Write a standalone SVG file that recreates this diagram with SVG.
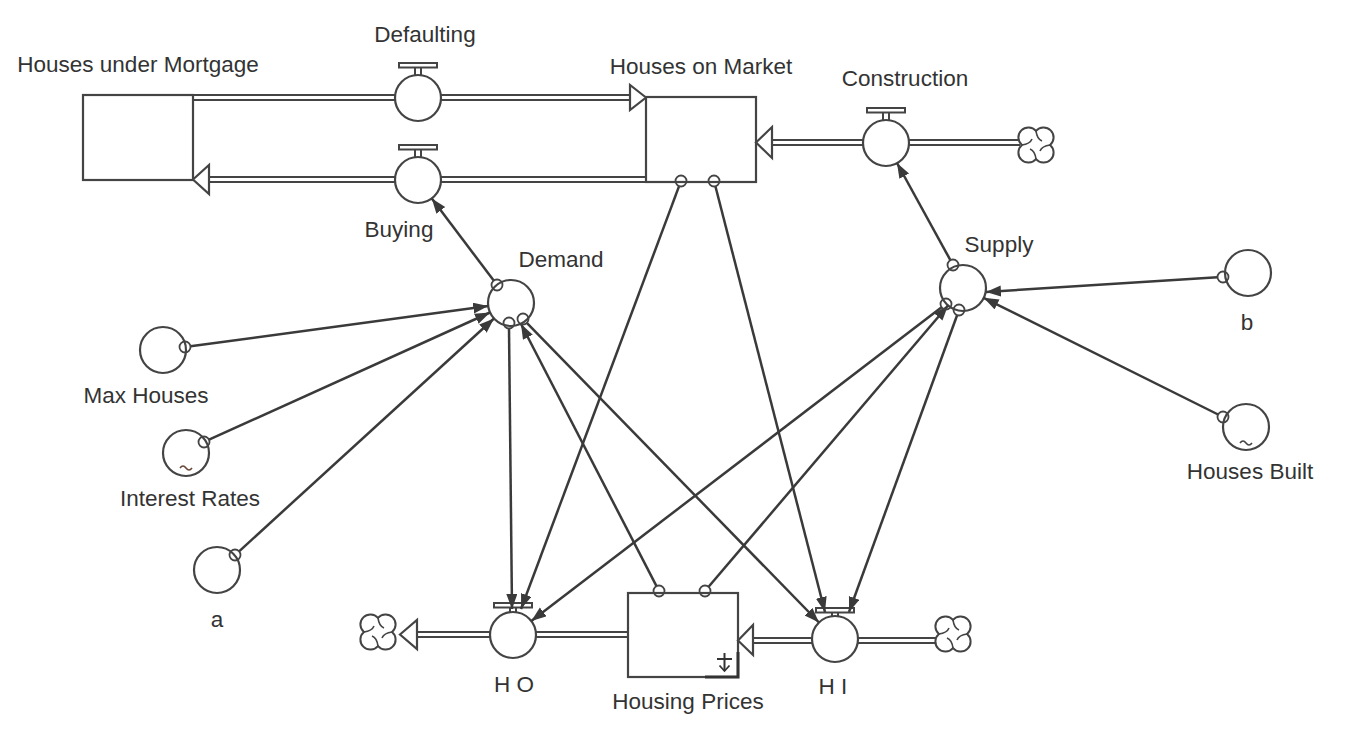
<svg xmlns="http://www.w3.org/2000/svg" width="1368" height="730" viewBox="0 0 1368 730">
<style>
text{font-family:"Liberation Sans",Arial,sans-serif;font-size:22.5px;fill:#333;text-anchor:middle}
.stock{fill:#fff;stroke:#444;stroke-width:2.2}
.conv{fill:#fff;stroke:#444;stroke-width:2.2}
.pipeO{stroke:#444;stroke-width:7;fill:none}
.pipeI{stroke:#fff;stroke-width:3;fill:none}
.head{fill:#fff;stroke:#444;stroke-width:2.2;stroke-linejoin:miter}
.cl{fill:#fff;stroke:#444;stroke-width:2}
.conn{stroke:#3a3a3a;stroke-width:2.5;fill:none;marker-end:url(#ah)}
.dot{fill:none;stroke:#444;stroke-width:1.8}
.hand{fill:#fff;stroke:#444;stroke-width:2}
.tl{fill:none;stroke:#444;stroke-width:1.6}
</style>
<defs>
<marker id="ah" markerUnits="userSpaceOnUse" markerWidth="16" markerHeight="12" refX="15" refY="5.5" orient="auto">
<path d="M0,0 L15,5.5 L0,11 Z" fill="#3a3a3a"/>
</marker>
<g id="cloud">
<path class="cl" d="M0,-14.1 A10,10 0 1 1 14.1,0 A10,10 0 1 1 0,14.1 A10,10 0 1 1 -14.1,0 A10,10 0 1 1 0,-14.1 Z"/>
<path class="tl" d="M0,-14.1 Q1,-6 6,-4 M14.1,0 Q6,1 4,6 M0,14.1 Q-1,6 -6,4 M-14.1,0 Q-6,-1 -4,-6"/>
</g>
<g id="handle">
<rect class="hand" x="-19" y="-35" width="38" height="4.5"/>
<line x1="-3" y1="-30.5" x2="-3" y2="-22" stroke="#444" stroke-width="2"/>
<line x1="3" y1="-30.5" x2="3" y2="-22" stroke="#444" stroke-width="2"/>
</g>
</defs>
<rect width="1368" height="730" fill="#fff"/>

<g id="flows">
<line class="pipeO" x1="192" y1="97.5" x2="632" y2="97.5"/>
<line class="pipeI" x1="193" y1="97.5" x2="633" y2="97.5"/>
<line class="pipeO" x1="207" y1="179.5" x2="647" y2="179.5"/>
<line class="pipeI" x1="206" y1="179.5" x2="646" y2="179.5"/>
<line class="pipeO" x1="770" y1="142.5" x2="1020" y2="142.5"/>
<line class="pipeI" x1="769" y1="142.5" x2="1021" y2="142.5"/>
<line class="pipeO" x1="415" y1="634.5" x2="629" y2="634.5"/>
<line class="pipeI" x1="414" y1="634.5" x2="628" y2="634.5"/>
<line class="pipeO" x1="751" y1="640.5" x2="937" y2="640.5"/>
<line class="pipeI" x1="750" y1="640.5" x2="938" y2="640.5"/>
</g>

<g id="houses-under-mortgage">
<rect class="stock" x="83" y="95" width="110" height="85"/>
<text x="138" y="72">Houses under Mortgage</text>
</g>
<g id="houses-on-market">
<rect class="stock" x="646" y="97" width="110" height="85"/>
<text x="701" y="74">Houses on Market</text>
</g>
<g id="housing-prices">
<rect class="stock" x="628" y="593" width="110" height="84"/>
<polyline points="705,677 738,677 738,652" fill="none" stroke="#333" stroke-width="3"/>
<line x1="717" y1="659" x2="732" y2="659" stroke="#333" stroke-width="2"/>
<line x1="724.5" y1="653" x2="724.5" y2="671" stroke="#333" stroke-width="2"/>
<path d="M719.5,665.5 L724.5,671 L729.5,665.5" fill="none" stroke="#333" stroke-width="1.8"/>
<text x="688" y="709">Housing Prices</text>
</g>

<g id="arrowheads">
<polygon class="head" points="646,97.5 630,85 630,110"/>
<polygon class="head" points="193,179.5 209,165 209,194"/>
<polygon class="head" points="756,142.5 772,127 772,158"/>
<polygon class="head" points="400,634.5 417,620 417,649"/>
<polygon class="head" points="738,640.5 753,625 753,655"/>
</g>

<g id="clouds">
<use href="#cloud" x="1036" y="145"/>
<use href="#cloud" x="378" y="632"/>
<use href="#cloud" x="953" y="634"/>
</g>

<g id="defaulting">
<use href="#handle" x="418" y="98"/>
<circle class="conv" cx="418" cy="98" r="23"/>
<text x="425" y="42">Defaulting</text>
</g>
<g id="buying">
<use href="#handle" x="418" y="180"/>
<circle class="conv" cx="418" cy="180" r="23"/>
<text x="399" y="237">Buying</text>
</g>
<g id="construction">
<use href="#handle" x="886" y="143"/>
<circle class="conv" cx="886" cy="143" r="23"/>
<text x="905" y="86">Construction</text>
</g>
<g id="ho">
<use href="#handle" x="513" y="638"/>
<circle class="conv" cx="513" cy="635" r="23"/>
<text x="514" y="692">H O</text>
</g>
<g id="hi">
<use href="#handle" x="835" y="643"/>
<circle class="conv" cx="835" cy="639" r="23"/>
<text x="833" y="694">H I</text>
</g>

<g id="demand">
<circle class="conv" cx="511" cy="303" r="23"/>
<text x="561" y="267">Demand</text>
</g>
<g id="supply">
<circle class="conv" cx="963" cy="288" r="23"/>
<text x="999" y="252">Supply</text>
</g>
<g id="max-houses">
<circle class="conv" cx="163" cy="350" r="23"/>
<text x="146" y="403">Max Houses</text>
</g>
<g id="interest-rates">
<circle class="conv" cx="186" cy="453" r="23"/>
<path d="M180,468 q3,-4 6,0 q3,4 6,0" fill="none" stroke="#6b4a3a" stroke-width="1.6"/>
<text x="190" y="506">Interest Rates</text>
</g>
<g id="a">
<circle class="conv" cx="217" cy="570" r="23"/>
<text x="217" y="627">a</text>
</g>
<g id="b">
<circle class="conv" cx="1248" cy="273" r="23"/>
<text x="1247" y="330">b</text>
</g>
<g id="houses-built">
<circle class="conv" cx="1246" cy="427" r="23"/>
<path d="M1240,443 q3,-4 6,0 q3,4 6,0" fill="none" stroke="#444" stroke-width="1.6"/>
<text x="1250" y="479">Houses Built</text>
</g>

<g id="connectors">
<line class="conn" x1="493.7" y1="280.6" x2="431.8" y2="198.4"/>
<line class="conn" x1="190.5" y1="346.3" x2="488.2" y2="306.1"/>
<line class="conn" x1="209" y1="439.7" x2="490" y2="312.5"/>
<line class="conn" x1="239.1" y1="551.3" x2="494" y2="318.5"/>
<line class="conn" x1="509" y1="328.5" x2="512" y2="609"/>
<line class="conn" x1="679.1" y1="186.1" x2="521" y2="609"/>
<line class="conn" x1="941.6" y1="307.3" x2="531.3" y2="621"/>
<line class="conn" x1="526.8" y1="322.9" x2="819" y2="622.5"/>
<line class="conn" x1="715.4" y1="186.3" x2="825" y2="612"/>
<line class="conn" x1="957.1" y1="315.2" x2="849" y2="612"/>
<line class="conn" x1="656.5" y1="586.1" x2="521" y2="324"/>
<line class="conn" x1="708.6" y1="586.8" x2="948" y2="305.5"/>
<line class="conn" x1="950.4" y1="260.2" x2="897" y2="163"/>
<line class="conn" x1="1217.5" y1="277.3" x2="986" y2="292"/>
<line class="conn" x1="1218.1" y1="414.5" x2="983.6" y2="297.8"/>
<circle class="dot" cx="497" cy="285" r="5.5"/>
<circle class="dot" cx="185" cy="347" r="5.5"/>
<circle class="dot" cx="204" cy="442" r="5.5"/>
<circle class="dot" cx="235" cy="555" r="5.5"/>
<circle class="dot" cx="509" cy="323" r="5.5"/>
<circle class="dot" cx="523" cy="319" r="5.5"/>
<circle class="dot" cx="681" cy="181" r="5.5"/>
<circle class="dot" cx="714" cy="181" r="5.5"/>
<circle class="dot" cx="946" cy="304" r="5.5"/>
<circle class="dot" cx="959" cy="310" r="5.5"/>
<circle class="dot" cx="953" cy="265" r="5.5"/>
<circle class="dot" cx="659" cy="591" r="5.5"/>
<circle class="dot" cx="705" cy="591" r="5.5"/>
<circle class="dot" cx="1223" cy="277" r="5.5"/>
<circle class="dot" cx="1223" cy="417" r="5.5"/>
</g>
</svg>
